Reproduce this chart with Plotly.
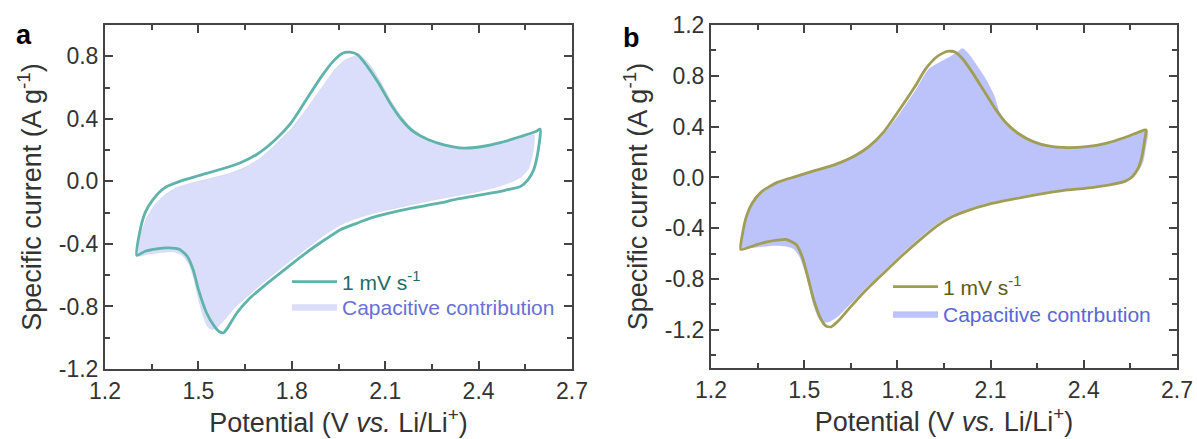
import plotly.graph_objects as go

# ---------------- data ----------------
# Panel a : CV at 1 mV/s
pot_a_cv = [1.302, 1.311, 1.329, 1.354, 1.39, 1.44, 1.50, 1.575, 1.637, 1.686, 1.747, 1.797,
            1.846, 1.895, 1.932, 1.963, 1.987, 2.012, 2.043, 2.079, 2.116, 2.153, 2.19, 2.239,
            2.289, 2.35, 2.412, 2.473, 2.535, 2.584, 2.598, 2.59, 2.577, 2.559, 2.535, 2.485,
            2.412, 2.338, 2.264, 2.19, 2.116, 2.055, 2.006, 1.956, 1.907, 1.846, 1.784, 1.723,
            1.661, 1.624, 1.594, 1.581, 1.569, 1.551, 1.526, 1.50, 1.483, 1.464, 1.44, 1.403,
            1.366, 1.329, 1.302]
cur_a_cv = [-0.474, -0.33, -0.20, -0.117, -0.043, 0.0, 0.036, 0.079, 0.121, 0.17, 0.266, 0.372,
            0.521, 0.67, 0.766, 0.819, 0.826, 0.809, 0.734, 0.628, 0.50, 0.394, 0.319, 0.266,
            0.234, 0.213, 0.223, 0.249, 0.287, 0.319, 0.334, 0.181, 0.074, 0.011, -0.032, -0.057,
            -0.085, -0.111, -0.143, -0.17, -0.202, -0.234, -0.270, -0.309, -0.372, -0.457, -0.553, -0.649,
            -0.755, -0.84, -0.936, -0.968, -0.964, -0.926, -0.84, -0.691, -0.564, -0.479, -0.436, -0.426,
            -0.432, -0.447, -0.474]

# Panel a : capacitive contribution
pot_a_cap = [1.305, 1.315, 1.335, 1.36, 1.39, 1.43, 1.48, 1.54, 1.60, 1.65, 1.70, 1.75, 1.80,
             1.85, 1.90, 1.94, 1.97, 2.00, 2.015, 2.035, 2.06, 2.09, 2.12, 2.15, 2.18, 2.22,
             2.27, 2.33, 2.39, 2.45, 2.51, 2.55, 2.578, 2.574, 2.56, 2.54, 2.51,
             2.46, 2.40, 2.32, 2.24, 2.16, 2.08, 2.01, 1.96, 1.91, 1.86, 1.80, 1.75, 1.70,
             1.66, 1.62, 1.59, 1.565, 1.545, 1.53, 1.515, 1.50, 1.485, 1.47, 1.45, 1.42,
             1.38, 1.34, 1.305]
cur_a_cap = [-0.478, -0.34, -0.23, -0.15, -0.09, -0.04, -0.01, 0.02, 0.05, 0.09, 0.15, 0.24, 0.34,
             0.47, 0.61, 0.72, 0.775, 0.80, 0.81, 0.78, 0.72, 0.62, 0.51, 0.42, 0.35, 0.29,
             0.245, 0.22, 0.218, 0.235, 0.262, 0.285, 0.298, 0.18, 0.08, 0.035, 0.0,
             -0.035, -0.065, -0.095, -0.125, -0.16, -0.195, -0.235, -0.275, -0.335, -0.41, -0.50, -0.58, -0.66,
             -0.73, -0.80, -0.87, -0.925, -0.948, -0.93, -0.86, -0.75, -0.62, -0.53, -0.475, -0.45,
             -0.455, -0.465, -0.478]

# Panel b : CV at 1 mV/s
pot_b_cv = [1.296, 1.302, 1.314, 1.333, 1.364, 1.413, 1.474, 1.536, 1.597, 1.659, 1.708, 1.757,
            1.806, 1.856, 1.892, 1.929, 1.96, 1.985, 2.009, 2.04, 2.077, 2.114, 2.151, 2.188,
            2.237, 2.286, 2.348, 2.409, 2.471, 2.532, 2.581, 2.60, 2.596, 2.587, 2.575, 2.557,
            2.532, 2.483, 2.409, 2.335, 2.249, 2.163, 2.089, 2.028, 1.979, 1.929, 1.88, 1.819,
            1.757, 1.696, 1.647, 1.61, 1.587, 1.57, 1.554, 1.53, 1.511, 1.493, 1.474, 1.444,
            1.413, 1.376, 1.339, 1.296]
cur_b_cv = [-0.567, -0.437, -0.306, -0.201, -0.11, -0.039, 0.008, 0.055, 0.099, 0.165, 0.243, 0.361,
            0.531, 0.714, 0.858, 0.954, 0.993, 0.988, 0.936, 0.831, 0.688, 0.544, 0.426, 0.348,
            0.282, 0.248, 0.235, 0.243, 0.269, 0.314, 0.361, 0.374, 0.295, 0.165, 0.073, 0.008,
            -0.031, -0.058, -0.084, -0.102, -0.136, -0.175, -0.214, -0.259, -0.306, -0.379, -0.476, -0.607,
            -0.75, -0.894, -1.025, -1.129, -1.176, -1.169, -1.116, -0.959, -0.776, -0.62, -0.528, -0.489,
            -0.494, -0.51, -0.536, -0.567]

# Panel b : capacitive contribution
pot_b_cap = [1.30, 1.305, 1.315, 1.335, 1.365, 1.41, 1.47, 1.53, 1.60, 1.66, 1.71, 1.76, 1.81,
             1.86, 1.90, 1.94, 1.97, 1.995, 2.01, 2.03, 2.05, 2.08, 2.11, 2.13, 2.15, 2.19,
             2.24, 2.29, 2.35, 2.41, 2.47, 2.53, 2.58, 2.606, 2.60, 2.59, 2.575, 2.555, 2.53,
             2.48, 2.41, 2.33, 2.25, 2.16, 2.09, 2.03, 1.98, 1.93, 1.88, 1.82, 1.76, 1.70,
             1.65, 1.61, 1.58, 1.56, 1.545, 1.53, 1.515, 1.50, 1.485, 1.465, 1.44, 1.40,
             1.36, 1.32, 1.30]
cur_b_cap = [-0.57, -0.45, -0.32, -0.21, -0.12, -0.05, 0.0, 0.05, 0.10, 0.16, 0.235, 0.35, 0.51,
             0.69, 0.85, 0.91, 0.95, 0.99, 1.015, 0.97, 0.90, 0.79, 0.65, 0.50, 0.42, 0.345,
             0.28, 0.245, 0.232, 0.24, 0.265, 0.31, 0.355, 0.37, 0.25, 0.12, 0.05, 0.005, -0.025,
             -0.05, -0.077, -0.095, -0.125, -0.165, -0.2, -0.245, -0.29, -0.36, -0.455, -0.585, -0.725, -0.865,
             -0.99, -1.09, -1.135, -1.14, -1.10, -1.0, -0.85, -0.72, -0.62, -0.56, -0.54, -0.535,
             -0.545, -0.555, -0.57]

x_ticks = [1.2, 1.5, 1.8, 2.1, 2.4, 2.7]
y_ticks_a = [-1.2, -0.8, -0.4, 0.0, 0.4, 0.8]
y_ticks_b = [-1.2, -0.8, -0.4, 0.0, 0.4, 0.8, 1.2]

# ---------------- styling ----------------
FONT = "Arial, 'Liberation Sans', sans-serif"
AXC = "#444444"
TXC = "#333333"
W, H = 1197, 439

fig = go.Figure()

# Panel a
fig.add_trace(go.Scatter(
    x=pot_a_cap, y=cur_a_cap, mode="lines", fill="toself",
    fillcolor="rgb(219,222,250)", line=dict(color="rgb(200,204,240)", width=0.5, shape="spline", smoothing=0.5),
    name='<span style="color:#6a70d6">Capacitive contribution</span>',
    legend="legend3", xaxis="x", yaxis="y"))
fig.add_trace(go.Scatter(
    x=pot_a_cv, y=cur_a_cv, mode="lines",
    line=dict(color="#5fb3ab", width=2.8, shape="spline", smoothing=0.6),
    name='<span style="color:#1f6b67">1 mV s<sup>-1</sup></span>',
    legend="legend", xaxis="x", yaxis="y"))

# Panel b
fig.add_trace(go.Scatter(
    x=pot_b_cap, y=cur_b_cap, mode="lines", fill="toself",
    fillcolor="rgb(188,195,250)", line=dict(color="rgb(176,184,248)", width=0.5, shape="spline", smoothing=0.5),
    name='<span style="color:#5a66d8">Capacitive contrbution</span>',
    legend="legend4", xaxis="x2", yaxis="y2"))
fig.add_trace(go.Scatter(
    x=pot_b_cv, y=cur_b_cv, mode="lines",
    line=dict(color="#a09d55", width=2.8, shape="spline", smoothing=0.6),
    name='<span style="color:#5c5a12">1 mV s<sup>-1</sup></span>',
    legend="legend2", xaxis="x2", yaxis="y2"))


def xaxis_style(domain, anchor):
    return dict(
        domain=domain, anchor=anchor, range=[1.2, 2.7], automargin=False,
        tickmode="array", tickvals=x_ticks, ticktext=[f"{v:.1f}" for v in x_ticks],
        ticks="inside", ticklen=8, tickwidth=2, tickcolor=AXC,
        minor=dict(ticks="inside", ticklen=5, tickwidth=2, tickcolor=AXC, tick0=1.2, dtick=0.15),
        showline=True, linewidth=2, linecolor=AXC, mirror="allticks",
        showgrid=False, zeroline=False,
        tickfont=dict(family=FONT, size=23, color=TXC),
        title=dict(text="Potential (V <i>vs.</i> Li/Li<sup>+</sup>)",
                   font=dict(family=FONT, size=27, color=TXC), standoff=4),
    )


def yaxis_style(domain, anchor, rng, ticks):
    return dict(
        domain=domain, anchor=anchor, range=rng, automargin=False,
        tickmode="array", tickvals=ticks,
        ticktext=[f"{v:.1f}" for v in ticks],
        ticks="inside", ticklen=8, tickwidth=2, tickcolor=AXC,
        minor=dict(ticks="inside", ticklen=5, tickwidth=2, tickcolor=AXC, tick0=-1.2, dtick=0.2),
        showline=True, linewidth=2, linecolor=AXC, mirror="allticks",
        showgrid=False, zeroline=False,
        tickfont=dict(family=FONT, size=23, color=TXC),
        title=dict(text="Specific current (A g<sup>-1</sup>)",
                   font=dict(family=FONT, size=27, color=TXC), standoff=9),
    )


def legend_at(px, py):
    return dict(x=px / W, y=(H - py) / H, xanchor="left", yanchor="middle",
                bgcolor="rgba(0,0,0,0)", font=dict(family=FONT, size=21),
                itemwidth=45, tracegroupgap=0)


fig.update_layout(
    width=W, height=H,
    margin=dict(l=0, r=0, t=0, b=0, autoexpand=False),
    paper_bgcolor="white", plot_bgcolor="white",
    font=dict(family=FONT, color=TXC),
    xaxis=xaxis_style([105 / W, 572 / W], "y"),
    yaxis=yaxis_style([70 / H, 414 / H], "x", [-1.2, 1.0], y_ticks_a),
    xaxis2=xaxis_style([711 / W, 1177 / W], "y2"),
    yaxis2=yaxis_style([71 / H, 414 / H], "x2", [-1.5, 1.2], y_ticks_b),
    legend=legend_at(287, 282),
    legend3=legend_at(287, 307),
    legend2=legend_at(888, 287),
    legend4=legend_at(888, 314),
    showlegend=True,
    annotations=[
        dict(text="<b>a</b>", x=24 / W, y=(H - 35) / H, xref="paper", yref="paper",
             xanchor="center", yanchor="middle",
             showarrow=False, font=dict(family=FONT, size=27, color="black")),
        dict(text="<b>b</b>", x=631 / W, y=(H - 38) / H, xref="paper", yref="paper",
             xanchor="center", yanchor="middle",
             showarrow=False, font=dict(family=FONT, size=27, color="black")),
    ],
)

fig.write_html("out.html", config={"displayModeBar": False},
               post_script="document.body.style.margin='0px';document.body.style.overflow='hidden';")
